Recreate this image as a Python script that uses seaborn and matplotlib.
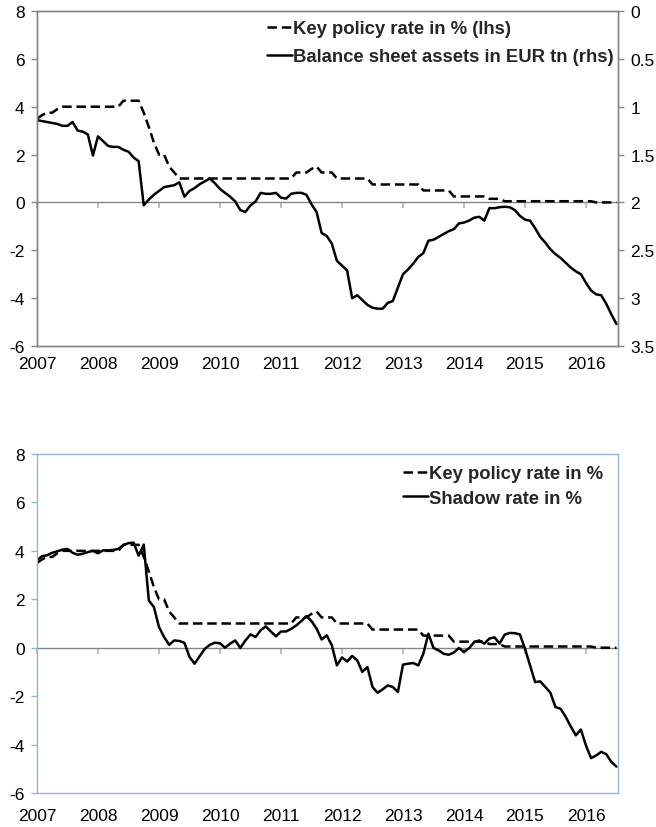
import numpy as np
import pandas as pd
import matplotlib
matplotlib.use("Agg")
import matplotlib.pyplot as plt
import seaborn as sns

sns.set_theme(style="ticks")
plt.rcParams["font.family"] = ["Liberation Sans", "DejaVu Sans"]

# ---------------- data (monthly, Jan 2007 - Jul 2016) ----------------
start_year = 2007
n_months = 115
year_ticks = [2007, 2008, 2009, 2010, 2011, 2012, 2013, 2014, 2015, 2016]

key_rate = [
    3.5, 3.65, 3.75, 3.75, 3.9,
    4.0, 4.0, 4.0, 4.0, 4.0, 4.0, 4.0, 4.0, 4.0, 4.0, 4.0, 4.0,
    4.25, 4.25, 4.25, 4.25,
    3.75, 3.15, 2.5, 2.0, 2.0, 1.5, 1.25,
    1.0, 1.0, 1.0, 1.0, 1.0, 1.0, 1.0, 1.0, 1.0, 1.0, 1.0, 1.0,
    1.0, 1.0, 1.0, 1.0, 1.0, 1.0, 1.0, 1.0, 1.0, 1.0, 1.0,
    1.25, 1.25, 1.25, 1.4, 1.5, 1.25, 1.25, 1.25,
    1.0, 1.0, 1.0, 1.0, 1.0, 1.0, 1.0,
    0.75, 0.75, 0.75, 0.75, 0.75, 0.75, 0.75, 0.75, 0.75, 0.75,
    0.5, 0.5, 0.5, 0.5, 0.5, 0.5,
    0.25, 0.25, 0.25, 0.25, 0.25, 0.25, 0.25,
    0.15, 0.15, 0.15,
    0.05, 0.05, 0.05, 0.05, 0.05, 0.05, 0.05, 0.05, 0.05,
    0.05, 0.05, 0.05, 0.05, 0.05, 0.05, 0.05, 0.05, 0.05,
    0.0, 0.0, 0.0, 0.0, 0.0,
]

balance_sheet = [
    1.14, 1.15, 1.16, 1.17, 1.18, 1.20, 1.20, 1.16, 1.25, 1.26,
    1.29, 1.51, 1.31, 1.36, 1.41, 1.42, 1.42, 1.45, 1.47, 1.53,
    1.57, 2.03, 1.97, 1.92, 1.88, 1.84, 1.83, 1.82, 1.79, 1.94,
    1.88, 1.85, 1.81, 1.78, 1.75, 1.80, 1.86, 1.90, 1.94, 1.99,
    2.08, 2.10, 2.03, 1.99, 1.90, 1.91, 1.91, 1.90, 1.95, 1.96,
    1.91, 1.90, 1.90, 1.92, 2.02, 2.10, 2.32, 2.35, 2.43, 2.61,
    2.66, 2.71, 3.00, 2.97, 3.02, 3.07, 3.10, 3.11, 3.11, 3.05,
    3.03, 2.89, 2.75, 2.70, 2.64, 2.57, 2.53, 2.40, 2.39, 2.36,
    2.33, 2.30, 2.28, 2.22, 2.21, 2.19, 2.16, 2.15, 2.19, 2.06,
    2.06, 2.05, 2.045, 2.05, 2.08, 2.14, 2.18, 2.19, 2.27, 2.36,
    2.42, 2.49, 2.54, 2.58, 2.63, 2.68, 2.72, 2.75, 2.84, 2.92,
    2.96, 2.97, 3.06, 3.17, 3.27,
]

shadow_rate = [
    3.61, 3.78, 3.82, 3.92, 3.98, 4.05, 4.08, 3.92, 3.84, 3.88,
    3.95, 4.00, 3.90, 4.02, 4.02, 4.04, 4.08, 4.24, 4.32, 4.34,
    3.80, 4.26, 1.95, 1.68, 0.85, 0.44, 0.12, 0.30, 0.28, 0.20,
    -0.38, -0.66, -0.35, -0.05, 0.12, 0.21, 0.18, 0.00, 0.17, 0.30,
    -0.01, 0.30, 0.55, 0.44, 0.72, 0.88, 0.67, 0.47, 0.67, 0.67,
    0.78, 0.92, 1.10, 1.31, 1.10, 0.79, 0.34, 0.51, 0.10, -0.73,
    -0.40, -0.57, -0.34, -0.52, -1.00, -0.80, -1.62, -1.86, -1.72, -1.56,
    -1.62, -1.83, -0.70, -0.66, -0.63, -0.73, -0.25, 0.58, -0.01, -0.11,
    -0.25, -0.29, -0.20, -0.01, -0.18, -0.02, 0.23, 0.30, 0.17, 0.38,
    0.43, 0.17, 0.54, 0.61, 0.60, 0.55, -0.04, -0.73, -1.42, -1.39,
    -1.62, -1.86, -2.45, -2.52, -2.85, -3.25, -3.62, -3.38, -4.04, -4.56,
    -4.45, -4.30, -4.40, -4.72, -4.91,
]

left_ticks = [-6, -4, -2, 0, 2, 4, 6, 8]
right_ticks = [0, 0.5, 1, 1.5, 2, 2.5, 3, 3.5]
right_labels = ["0", "0.5", "1", "1.5", "2", "2.5", "3", "3.5"]

labels_top = ["Key policy rate in % (lhs)", "Balance sheet assets in EUR tn (rhs)"]
labels_bottom = ["Key policy rate in %", "Shadow rate in %"]

# ---------------- frame ----------------
t = start_year + np.arange(n_months) / 12.0
df = pd.DataFrame({"t": t, "key": key_rate, "bs": balance_sheet, "shadow": shadow_rate})

W, H = 656, 828
fig = plt.figure(figsize=(W / 100, H / 100), dpi=100)
ax1 = fig.add_axes([37 / W, 1 - 347 / H, 581 / W, 335 / H])
ax2 = fig.add_axes([37 / W, 1 - 794 / H, 581 / W, 339 / H])

GRAY = "#868686"
BLUE = "#95b3d7"
LW = 1.8
DASH = (0, (3.8, 1.9))
XMAX = 2016.525
FS = 12.5
LEG_FS = 13.3


def style_axis(ax, frame_color, label_pad):
    ax.set_xlim(start_year, XMAX)
    ax.set_ylim(-6, 8)
    ax.set_yticks(left_ticks)
    ax.set_yticklabels([str(v) for v in left_ticks])
    ax.set_xticks(year_ticks)
    ax.set_xticklabels([str(y) for y in year_ticks])
    ax.tick_params(axis="y", length=4, width=1, color=frame_color, pad=5,
                   labelsize=FS, labelcolor="black")
    ax.tick_params(axis="x", length=0, pad=label_pad, labelsize=FS,
                   labelcolor="black")
    for s in ax.spines.values():
        s.set_color(frame_color)
        s.set_linewidth(1)
        s.set_visible(True)
    ax.set_xlabel("")
    ax.set_ylabel("")
    sec = ax.secondary_xaxis(6 / 14)
    sec.set_xticks(year_ticks)
    sec.set_xticklabels([])
    sec.tick_params(axis="x", bottom=True, length=4, width=1.2,
                    color="#b4b4b4", direction="out")
    for s in sec.spines.values():
        s.set_color(GRAY)
        s.set_linewidth(1)


# ---------------- top chart ----------------
sns.lineplot(data=df, x="t", y="key", ax=ax1, color="black", linewidth=LW,
             linestyle=DASH, legend=False)
style_axis(ax1, GRAY, 7)
ax1b = ax1.twinx()
sns.lineplot(data=df, x="t", y="bs", ax=ax1b, color="black", linewidth=LW,
             legend=False)
ax1b.set_ylim(3.5, 0)
ax1b.set_yticks(right_ticks)
ax1b.set_yticklabels(right_labels)
ax1b.set_ylabel("")
ax1b.set_xlim(start_year, XMAX)
ax1b.tick_params(axis="y", right=True, length=4, width=1, color=GRAY, pad=5,
                 labelsize=FS, labelcolor="black")
for s in ax1b.spines.values():
    s.set_color(GRAY)
    s.set_linewidth(1)

h1 = ax1.lines[0]
h2 = ax1b.lines[0]
h1.set_label(labels_top[0])
h2.set_label(labels_top[1])
ax1b.legend(handles=[h1, h2], loc="upper right", bbox_to_anchor=(0.993, 0.972),
            frameon=False, prop={"weight": "bold", "size": LEG_FS},
            handlelength=1.35, handletextpad=0.08, labelspacing=0.58,
            borderpad=0, borderaxespad=0)

# ---------------- bottom chart ----------------
sns.lineplot(data=df, x="t", y="key", ax=ax2, color="black", linewidth=LW,
             linestyle=DASH, legend=False)
sns.lineplot(data=df, x="t", y="shadow", ax=ax2, color="black", linewidth=LW,
             legend=False)
style_axis(ax2, BLUE, 11)
g1, g2 = ax2.lines[0], ax2.lines[1]
g1.set_label(labels_bottom[0])
g2.set_label(labels_bottom[1])
ax2.legend(handles=[g1, g2], loc="upper right", bbox_to_anchor=(0.975, 0.967),
           frameon=False, prop={"weight": "bold", "size": LEG_FS},
           handlelength=1.35, handletextpad=0.08, labelspacing=0.42,
           borderpad=0, borderaxespad=0)

fig.savefig("out.png", dpi=100)
